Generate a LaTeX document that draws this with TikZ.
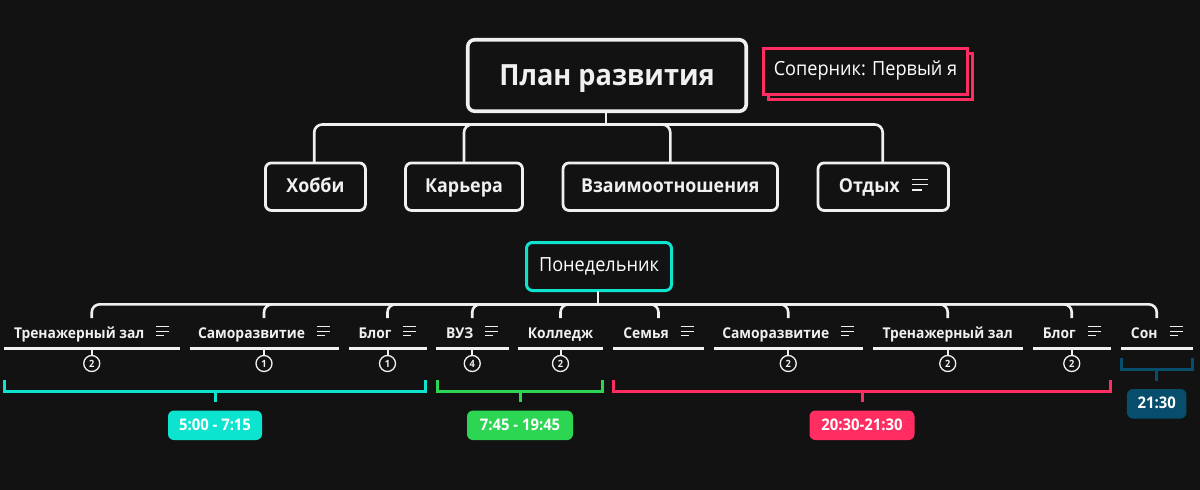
\documentclass[tikz,border=0pt]{standalone}
\usepackage{fontspec}
\setmainfont[FakeStretch=0.93]{Open Sans}
\definecolor{bg}{HTML}{121212}
\definecolor{wh}{HTML}{F0F0F0}
\definecolor{cy}{HTML}{0CE4D0}
\definecolor{gr}{HTML}{2CD653}
\definecolor{rd}{HTML}{FF2D62}
\definecolor{tl}{HTML}{064E6B}
\newcommand{\noteicon}{\raisebox{1.7pt}{\vbox{\offinterlineskip\hsize=13pt
  \hrule width 13pt height 1.3pt\vskip3.2pt
  \hrule width 13pt height 1.3pt\vskip3.2pt
  \hrule width 8pt height 1.3pt}}}
\newcommand{\bigicon}{\raisebox{1.6pt}{\vbox{\offinterlineskip\hsize=16pt
  \hrule width 16pt height 1.5pt\vskip3.8pt
  \hrule width 16pt height 1.5pt\vskip3.8pt
  \hrule width 10pt height 1.5pt}}}
\tikzset{
  x=1pt,y=-1pt,
  every node/.style={inner sep=0pt,outer sep=0pt,text=white,align=center},
  topbox/.style={draw=wh,line width=2.8pt,rounded corners=6pt,font=\bfseries\fontsize{19.2}{19.2}\selectfont,text=wh,text height=16pt,text depth=4.8pt},
  conn/.style={draw=wh,line width=2.6pt,rounded corners=8pt},
  stem/.style={draw=wh,line width=2.6pt},
  item/.style={minimum height=30pt,font=\bfseries\fontsize{14.9}{14.9}\selectfont,text=wh,text height=14pt,text depth=4pt},
  bar/.style={draw=wh,line width=3pt},
  badge/.style={circle,draw=wh,line width=1.3pt,minimum size=16pt,font=\bfseries\fontsize{10}{10}\selectfont,text=wh},
  timebrace/.style={line width=3pt},
  pill/.style={rounded corners=6pt,font=\bfseries\fontsize{16}{16}\selectfont,text=white,text height=12.5pt,text depth=2.5pt},
}
\newcommand{\itemnode}[5]{% name, x-left, x-right, text, bus
  \node[item,minimum width=#3pt-#2pt] (#1) at ({(#2+#3)/2},333) {#4};
  \draw[bar] (#1.south west) -- (#1.south east);
  \draw[conn] (#1.north) |- (#5);
}
\begin{document}
\begin{tikzpicture}
\useasboundingbox (0,0) rectangle (1200,490);
\fill[bg] (0,0) rectangle (1200,490);
% top map
\node[draw=wh,line width=3.6pt,rounded corners=7pt,minimum width=278.5pt,minimum height=71.5pt,font=\bfseries\fontsize{29.2}{29.2}\selectfont,text=wh,text height=27pt,text depth=8pt] (root) at (607,75.5) {План развития};
\coordinate (bustop) at (606,124.5);
\node[topbox,minimum width=100pt,minimum height=47.5pt] (hobby) at (315.4,186.7) {Хобби};
\node[topbox,minimum width=117pt,minimum height=47.5pt] (career) at (464,186.7) {Карьера};
\node[topbox,minimum width=214.5pt,minimum height=47.5pt] (rel) at (670.3,186.7) {Взаимоотношения};
\node[topbox,minimum width=130.5pt,minimum height=47.5pt] (rest) at (883.3,186.7) {Отдых\hspace{12pt}\bigicon};
\draw[stem] (root.south) ++(-1,0) -- (bustop);
\draw[conn] ([xshift=-1.2pt]hobby.north) |- (bustop);
\draw[conn] (career.north) |- (bustop);
\draw[conn] (rel.north) |- (bustop);
\draw[conn] ([xshift=-0.6pt]rest.north) |- (bustop);
% rival note
\coordinate (shadowa) at (768.5,53.5);
\coordinate (shadowb) at (972.5,99.5);
\draw[rd,line width=3pt] (shadowa) rectangle (shadowb);
\node[draw=rd,fill=bg,line width=3pt,minimum width=204pt,minimum height=46pt,font=\fontsize{19.5}{19.5}\selectfont,text height=14pt,text depth=5.6pt] (rival) at (865.5,71.5) {Соперник: Первый я};
% monday
\node[draw=cy,line width=3pt,rounded corners=6pt,minimum width=145pt,minimum height=48pt,font=\fontsize{19.5}{19.5}\selectfont,text height=15pt,text depth=4.6pt] (mon) at (599,266.5) {Понедельник};
\coordinate (bus) at (598,304.3);
\draw[stem] (mon.south) ++(-1,0) -- (bus);
\itemnode{i1}{4}{179.5}{Тренажерный зал\hspace{12pt}\noteicon}{bus}
\itemnode{i2}{189.5}{338.5}{Саморазвитие\hspace{12pt}\noteicon}{bus}
\itemnode{i3}{348.5}{426.5}{Блог\hspace{12pt}\noteicon}{bus}
\itemnode{i4}{436}{508.5}{ВУЗ\hspace{12pt}\noteicon}{bus}
\itemnode{i5}{518}{603}{Колледж}{bus}
\itemnode{i6}{613}{704}{Семья\hspace{12pt}\noteicon}{bus}
\itemnode{i7}{714}{862.5}{Саморазвитие\hspace{12pt}\noteicon}{bus}
\itemnode{i8}{872.5}{1023}{Тренажерный зал}{bus}
\itemnode{i9}{1032.5}{1111}{Блог\hspace{12pt}\noteicon}{bus}
\itemnode{i10}{1120.5}{1193}{Сон\hspace{12pt}\noteicon}{bus}
% badges
\foreach \n/\d in {i1/2,i2/1,i3/1,i4/4,i5/2,i7/2,i8/2,i9/2}{
  \node[badge] (b\n) at ([yshift=-15.5pt]\n.south) {\d};
  \draw[stem,line width=2pt] (\n.south) -- (b\n.north);
}
% time brackets
\node[pill,fill=cy,minimum width=94pt,minimum height=29.5pt] (t1) at (215,425.3) {5:00 - 7:15};
\node[pill,fill=gr,minimum width=106pt,minimum height=29.5pt] (t2) at (520,425.3) {7:45 - 19:45};
\node[pill,fill=rd,minimum width=105pt,minimum height=29.5pt] (t3) at (862,425.3) {20:30-21:30};
\node[pill,fill=tl,minimum width=59.5pt,minimum height=29.5pt] (t4) at (1156.7,403.8) {21:30};
\coordinate (s1) at (215,402);
\coordinate (s2) at (520,402);
\coordinate (s3) at (862,402);
\coordinate (s4) at (1156.7,380.5);
\draw[timebrace,draw=cy] (4.3,380) |- (425.7,391) -- (425.7,380);
\draw[timebrace,draw=cy] (s1) -- (s1 |- 0,391);
\draw[timebrace,draw=gr] (437,380) |- (602,391) -- (602,380);
\draw[timebrace,draw=gr] (s2) -- (s2 |- 0,391);
\draw[timebrace,draw=rd] (613.5,380) |- (1110.5,391) -- (1110.5,380);
\draw[timebrace,draw=rd] (s3) -- (s3 |- 0,391);
\draw[timebrace,draw=tl] (1121,358) |- (1192,369) -- (1192,358);
\draw[timebrace,draw=tl] (s4) -- (s4 |- 0,369);
\end{tikzpicture}
\end{document}
